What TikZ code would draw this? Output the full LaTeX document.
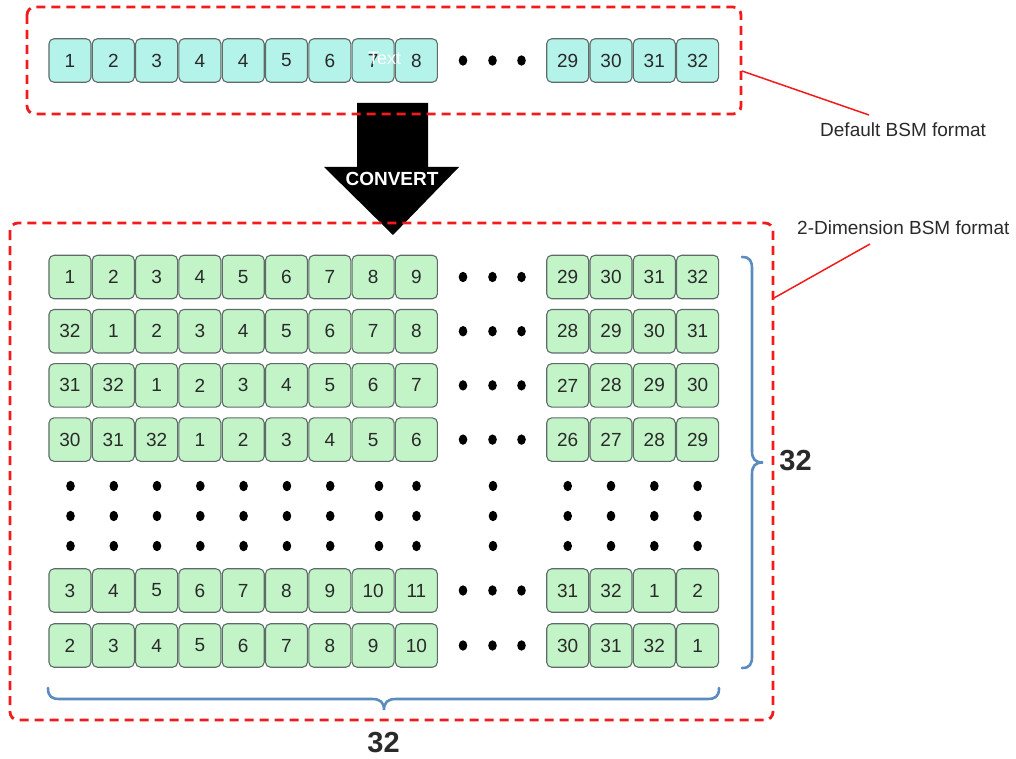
\documentclass[tikz,border=0pt]{standalone}
\usepackage{fontspec}
\setmainfont{Liberation Sans}
\usetikzlibrary{calc}
\definecolor{cyancell}{HTML}{B4F3EA}
\definecolor{greencell}{HTML}{C2F4C8}
\definecolor{cellborder}{HTML}{5F6B68}
\definecolor{boxred}{HTML}{F21B1B}
\definecolor{bracecol}{HTML}{5B8CC0}
\definecolor{txt}{HTML}{2A2A2A}
\begin{document}
\begin{tikzpicture}[x=1pt,y=-1pt,
  cellbase/.style={draw=cellborder, line width=1.1pt, rounded corners=5pt, minimum width=42pt, minimum height=43.5pt, inner sep=0pt, font=\fontsize{19}{22}\selectfont, text=txt},
  tcell/.style={cellbase, fill=cyancell},
  gcell/.style={cellbase, fill=greencell},
  redbox/.style={draw=boxred, line width=2.8pt, dash pattern=on 9pt off 6pt, rounded corners=8pt},
  callout/.style={draw=boxred, line width=1.5pt},
  brace/.style={draw=bracecol, line width=2.6pt, line cap=round},
  anno/.style={font=\fontsize{19}{22}\selectfont, text=txt, inner sep=0pt},
  bignum/.style={font=\bfseries\fontsize{29}{34}\selectfont, text=txt, inner sep=0pt}
]
\useasboundingbox (0,0) rectangle (1016,759);
\fill[white] (0,0) rectangle (1016,759);

% convert arrow
\fill[black] (357,103) -- (428,103) -- (428,167) -- (459,167) -- (393,235) -- (324,167) -- (357,167) -- cycle;

% top row
\foreach \l [count=\c] in {1,2,3,4,4,5,6,7,8}
  \node[tcell] (t\c) at ({70+(\c-1)*43.3},60.5) {\l};
\foreach \l [count=\c] in {29,30,31,32}
  \node[tcell] (tr\c) at ({567.7+(\c-1)*43.3},60.5) {\l};
\foreach \x in {463,492.5,521.5}
  \fill (\x,60.5) ellipse [x radius=4.3, y radius=5.2];
\node[font=\fontsize{18}{22}\selectfont, text=white, inner sep=0pt] (txtw) at (384.5,58) {Text};

% lower grid
\foreach \y/\lst/\rlst [count=\r] in {
  277/{1,2,3,4,5,6,7,8,9}/{29,30,31,32},
  331.2/{32,1,2,3,4,5,6,7,8}/{28,29,30,31},
  385.4/{31,32,1,2,3,4,5,6,7}/{27,28,29,30},
  439.6/{30,31,32,1,2,3,4,5,6}/{26,27,28,29},
  590.5/{3,4,5,6,7,8,9,10,11}/{31,32,1,2},
  645.5/{2,3,4,5,6,7,8,9,10}/{30,31,32,1}}
{
  \foreach \l [count=\c] in \lst
    \node[gcell] (g\r-\c) at ({70+(\c-1)*43.3},\y) {\l};
  \foreach \l [count=\c] in \rlst
    \node[gcell] (gr\r-\c) at ({567.7+(\c-1)*43.3},\y) {\l};
  \foreach \x in {463,492.5,521.5}
    \fill (\x,\y) ellipse [x radius=4.3, y radius=5.2];
}
\foreach \y in {486,516,546}
  \foreach \x in {70.5,113.8,157,200.3,243.6,286.9,330.2,379,416.5,493,567.7,611,654.3,697.6}
    \fill (\x,\y) ellipse [x radius=4.3, y radius=5.2];

% dashed boxes
\draw[redbox] (27,7) rectangle (741,114);
\draw[redbox] (10,223) rectangle (773,720);

\node[font=\bfseries\fontsize{19}{22}\selectfont, text=white, inner sep=0pt] (conv) at (392,179) {CONVERT};

% callouts
\node[anno, anchor=west] (lab1) at (820,130) {Default BSM format};
\node[anno, anchor=west] (lab2) at (797,228) {2-Dimension BSM format};
\coordinate (c1a) at (742,71);
\coordinate (c1b) at (869,115);
\draw[callout] (c1a) -- (c1b);
\coordinate (c2a) at (774,298);
\coordinate (c2b) at (870,244);
\draw[callout] (c2a) -- (c2b);

% braces
\draw[brace] (48,688) .. controls (48,697) and (52,699) .. (60,699) -- (372,699)
  .. controls (380,699) and (384,702) .. (384,710)
  .. controls (384,702) and (388,699) .. (396,699) -- (707,699)
  .. controls (715,699) and (719,697) .. (719,688);
\draw[brace] (742,257) .. controls (750,257) and (752,261) .. (752,269) -- (752,451)
  .. controls (752,459) and (755,462.5) .. (763,462.5)
  .. controls (755,462.5) and (752,466) .. (752,474) -- (752,656)
  .. controls (752,664) and (750,668) .. (742,668);

\node[bignum] (n32r) at (795.5,461) {32};
\node[bignum] (n32b) at (383.5,743) {32};
\end{tikzpicture}
\end{document}
